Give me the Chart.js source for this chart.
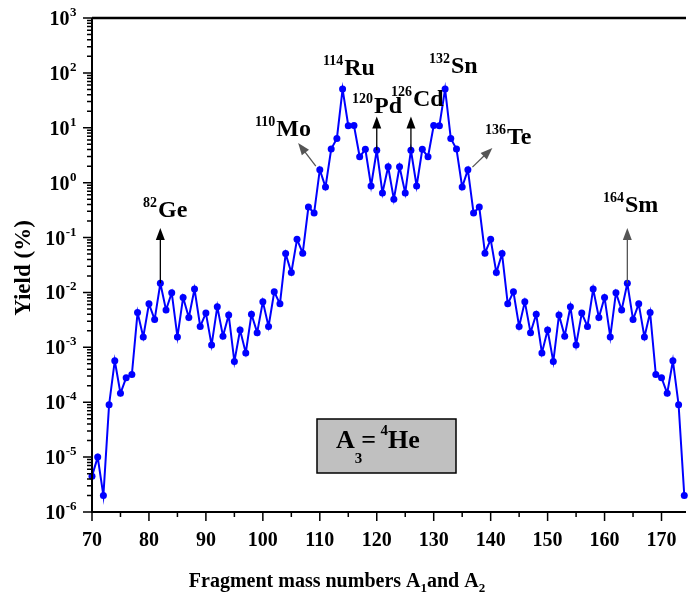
<!DOCTYPE html>
<html>
<head>
<meta charset="utf-8">
<script src="https://cdn.jsdelivr.net/npm/chart.js@4.4.1/dist/chart.umd.min.js"></script>
<style>
  html, body { margin: 0; padding: 0; background: #fff; }
  #chart { display: block; }
</style>
</head>
<body>
<canvas id="chart" width="690" height="601"></canvas>
<script>
// fragment mass numbers A1 / A2
const massNumbers = [
  70, 71, 72, 73, 74, 75, 76, 77, 78, 79,
  80, 81, 82, 83, 84, 85, 86, 87, 88, 89,
  90, 91, 92, 93, 94, 95, 96, 97, 98, 99,
  100, 101, 102, 103, 104, 105, 106, 107, 108, 109,
  110, 111, 112, 113, 114, 115, 116, 117, 118, 119,
  120, 121, 122, 123, 124, 125, 126, 127, 128, 129,
  130, 131, 132, 133, 134, 135, 136, 137, 138, 139,
  140, 141, 142, 143, 144, 145, 146, 147, 148, 149,
  150, 151, 152, 153, 154, 155, 156, 157, 158, 159,
  160, 161, 162, 163, 164, 165, 166, 167, 168, 169,
  170, 171, 172, 173, 174
];

// yield (%)
const yields = [
  4.5e-6, 1.0e-5, 2.0e-6, 9.0e-5, 5.7e-4, 1.45e-4, 2.8e-4, 3.2e-4, 4.3e-3, 1.55e-3,
  6.2e-3, 3.2e-3, 1.47e-2, 4.8e-3, 9.9e-3, 1.55e-3, 8.1e-3, 3.5e-3, 1.15e-2, 2.4e-3,
  4.2e-3, 1.1e-3, 5.5e-3, 1.6e-3, 3.9e-3, 5.5e-4, 2.07e-3, 7.9e-4, 4.0e-3, 1.85e-3,
  6.8e-3, 2.4e-3, 1.03e-2, 6.2e-3, 5.1e-2, 2.3e-2, 9.3e-2, 5.2e-2, 0.36, 0.28,
  1.72, 0.83, 4.1, 6.4, 50.7, 10.9, 11.0, 2.96, 4.05, 0.87,
  3.9, 0.65, 1.95, 0.50, 1.95, 0.65, 3.9, 0.87, 4.05, 2.96,
  11.0, 10.9, 50.7, 6.4, 4.1, 0.83, 1.72, 0.28, 0.36, 5.2e-2,
  9.3e-2, 2.3e-2, 5.1e-2, 6.2e-3, 1.03e-2, 2.4e-3, 6.8e-3, 1.85e-3, 4.0e-3, 7.9e-4,
  2.07e-3, 5.5e-4, 3.9e-3, 1.6e-3, 5.5e-3, 1.1e-3, 4.2e-3, 2.4e-3, 1.15e-2, 3.5e-3,
  8.1e-3, 1.55e-3, 9.9e-3, 4.8e-3, 1.47e-2, 3.2e-3, 6.2e-3, 1.55e-3, 4.3e-3, 3.2e-4,
  2.8e-4, 1.45e-4, 5.7e-4, 9.0e-5, 2.0e-6
];

const xTickLabels = [70, 80, 90, 100, 110, 120, 130, 140, 150, 160, 170];
const xMinorTicks = [75, 85, 95, 105, 115, 125, 135, 145, 155, 165];
const yTickExponents = [-6, -5, -4, -3, -2, -1, 0, 1, 2, 3];

// labelled fragments: [mass, symbol]
const isotopes = [
  [82, "Ge"], [110, "Mo"], [114, "Ru"], [120, "Pd"],
  [126, "Cd"], [132, "Sn"], [136, "Te"], [164, "Sm"]
];

const SERIF = '"Liberation Serif", "Times New Roman", serif';

// where the isotope labels sit (left edge of the mass number, baseline of symbol)
const labelPos = {
  Ge: [143, 217], Mo: [255, 136], Ru: [323, 75], Pd: [352, 113],
  Cd: [391, 106], Sn: [429, 73], Te: [485, 144], Sm: [603, 212]
};

// arrows in data coordinates: from [A, yield] to [A, yield]
const arrows = [
  { from: [82, 1.47e-2], to: [82, 0.15], color: "#000" },
  { from: [164, 1.47e-2], to: [164, 0.15], color: "#555" },
  { from: [120, 3.9], to: [120, 16], color: "#000" },
  { from: [126, 3.9], to: [126, 16], color: "#000" },
  { from: [109.3, 2.0], to: [106.2, 5.3], color: "#555" },
  { from: [136.8, 1.92], to: [140.3, 4.3], color: "#555" }
];

function drawArrow(ctx, x1, y1, x2, y2, color) {
  const ang = Math.atan2(y2 - y1, x2 - x1);
  const len = 12, half = 4.5;
  ctx.save();
  ctx.strokeStyle = color;
  ctx.fillStyle = color;
  ctx.lineWidth = 1.3;
  ctx.beginPath();
  ctx.moveTo(x1, y1);
  ctx.lineTo(x2 - Math.cos(ang) * len * 0.8, y2 - Math.sin(ang) * len * 0.8);
  ctx.stroke();
  ctx.beginPath();
  ctx.moveTo(x2, y2);
  ctx.lineTo(x2 - Math.cos(ang) * len - Math.sin(ang) * half, y2 - Math.sin(ang) * len + Math.cos(ang) * half);
  ctx.lineTo(x2 - Math.cos(ang) * len + Math.sin(ang) * half, y2 - Math.sin(ang) * len - Math.cos(ang) * half);
  ctx.closePath();
  ctx.fill();
  ctx.restore();
}

const axesPlugin = {
  id: "axesPlugin",
  afterDraw(chart) {
    const ctx = chart.ctx;
    const xs = chart.scales.x, ys = chart.scales.y;
    const area = chart.chartArea;
    ctx.save();
    ctx.strokeStyle = "#000";
    ctx.fillStyle = "#000";

    // frame: left, bottom, top
    ctx.lineWidth = 2;
    ctx.beginPath();
    ctx.moveTo(area.left, area.top);
    ctx.lineTo(area.left, area.bottom);
    ctx.lineTo(area.right, area.bottom);
    ctx.stroke();
    ctx.lineWidth = 2.5;
    ctx.beginPath();
    ctx.moveTo(area.left, area.top);
    ctx.lineTo(area.right, area.top);
    ctx.stroke();

    // x ticks
    ctx.lineWidth = 1.5;
    ctx.beginPath();
    xTickLabels.forEach(v => {
      const px = xs.getPixelForValue(v);
      ctx.moveTo(px, area.bottom); ctx.lineTo(px, area.bottom + 9);
    });
    xMinorTicks.forEach(v => {
      const px = xs.getPixelForValue(v);
      ctx.moveTo(px, area.bottom); ctx.lineTo(px, area.bottom + 5);
    });
    ctx.stroke();

    ctx.font = "bold 20px " + SERIF;
    ctx.textAlign = "center";
    ctx.textBaseline = "alphabetic";
    xTickLabels.forEach(v => {
      ctx.fillText(String(v), xs.getPixelForValue(v), area.bottom + 34);
    });

    // y ticks (major + minor), labels 10^n
    ctx.beginPath();
    yTickExponents.forEach((e, i) => {
      const py = ys.getPixelForValue(Math.pow(10, e));
      ctx.moveTo(area.left, py); ctx.lineTo(area.left - 9, py);
      if (i < yTickExponents.length - 1) {
        for (let m = 2; m <= 9; m++) {
          const pm = ys.getPixelForValue(m * Math.pow(10, e));
          ctx.moveTo(area.left, pm); ctx.lineTo(area.left - 5, pm);
        }
      }
    });
    ctx.stroke();

    ctx.textAlign = "left";
    yTickExponents.forEach(e => {
      const py = ys.getPixelForValue(Math.pow(10, e));
      ctx.font = "bold 20px " + SERIF;
      const wb = ctx.measureText("10").width;
      ctx.font = "bold 13px " + SERIF;
      const sup = e < 0 ? "-" + Math.abs(e) : String(e);
      const ws = ctx.measureText(sup).width;
      const x0 = 76 - wb - ws;
      ctx.font = "bold 20px " + SERIF;
      ctx.fillText("10", x0, py + 7);
      ctx.font = "bold 13px " + SERIF;
      ctx.fillText(sup, x0 + wb + 0.5, py - 2);
    });

    // axis titles
    ctx.font = "bold 20px " + SERIF;
    const t1 = "Fragment mass numbers A", t2 = "and A";
    const w1 = ctx.measureText(t1).width, w2 = ctx.measureText(t2).width;
    ctx.font = "bold 13px " + SERIF;
    const ws1 = ctx.measureText("1").width, ws2 = ctx.measureText("2").width;
    let tx = 337 - (w1 + ws1 + w2 + ws2) / 2;
    const ty = 587;
    ctx.font = "bold 20px " + SERIF;
    ctx.fillText(t1, tx, ty); tx += w1;
    ctx.font = "bold 13px " + SERIF;
    ctx.fillText("1", tx, ty + 5); tx += ws1;
    ctx.font = "bold 20px " + SERIF;
    ctx.fillText(t2, tx, ty); tx += w2;
    ctx.font = "bold 13px " + SERIF;
    ctx.fillText("2", tx, ty + 5);

    ctx.save();
    ctx.translate(30, 268);
    ctx.rotate(-Math.PI / 2);
    ctx.textAlign = "center";
    ctx.font = "bold 23px " + SERIF;
    ctx.fillText("Yield (%)", 0, 0);
    ctx.restore();

    // arrows
    arrows.forEach(a => {
      drawArrow(ctx,
        xs.getPixelForValue(a.from[0]), ys.getPixelForValue(a.from[1]),
        xs.getPixelForValue(a.to[0]), ys.getPixelForValue(a.to[1]), a.color);
    });

    // isotope labels
    ctx.fillStyle = "#000";
    ctx.textAlign = "left";
    isotopes.forEach(([mass, sym]) => {
      const [lx, ly] = labelPos[sym];
      ctx.font = "bold 14px " + SERIF;
      const wm = ctx.measureText(String(mass)).width;
      ctx.fillText(String(mass), lx, ly - 10);
      ctx.font = "bold 24px " + SERIF;
      ctx.fillText(sym, lx + wm + 1, ly);
    });

    // A3 = 4He box
    ctx.fillStyle = "#c0c0c0";
    ctx.fillRect(317, 419, 139, 54);
    ctx.strokeStyle = "#000";
    ctx.lineWidth = 1.5;
    ctx.strokeRect(317, 419, 139, 54);
    ctx.fillStyle = "#000";
    let bx = 336;
    const by = 448;
    ctx.font = "bold 26px " + SERIF;
    ctx.fillText("A", bx, by); bx += ctx.measureText("A").width;
    ctx.font = "bold 15px " + SERIF;
    ctx.fillText("3", bx, by + 15); bx += ctx.measureText("3").width - 1;
    ctx.font = "bold 26px " + SERIF;
    ctx.fillText("= ", bx, by); bx += ctx.measureText("= ").width - 2;
    ctx.font = "bold 15px " + SERIF;
    ctx.fillText("4", bx, by - 13); bx += ctx.measureText("4").width;
    ctx.font = "bold 26px " + SERIF;
    ctx.fillText("He", bx, by);

    ctx.restore();
  }
};

new Chart(document.getElementById("chart"), {
  type: "line",
  data: {
    datasets: [{
      data: massNumbers.map((a, i) => ({ x: a, y: yields[i] })),
      borderColor: "#0000ff",
      backgroundColor: "#0000ff",
      borderWidth: 2,
      pointRadius: 3.5,
      pointBorderWidth: 0,
      pointBackgroundColor: "#0000ff",
      tension: 0,
      clip: 6
    }]
  },
  options: {
    responsive: false,
    devicePixelRatio: 1,
    animation: false,
    layout: { padding: { left: 92, top: 18, right: 0, bottom: 89 } },
    plugins: { legend: { display: false }, tooltip: { enabled: false } },
    scales: {
      x: { type: "linear", min: 70, max: 174.3, display: false },
      y: { type: "logarithmic", min: 1e-6, max: 1e3, display: false }
    }
  },
  plugins: [axesPlugin]
});
</script>
</body>
</html>
